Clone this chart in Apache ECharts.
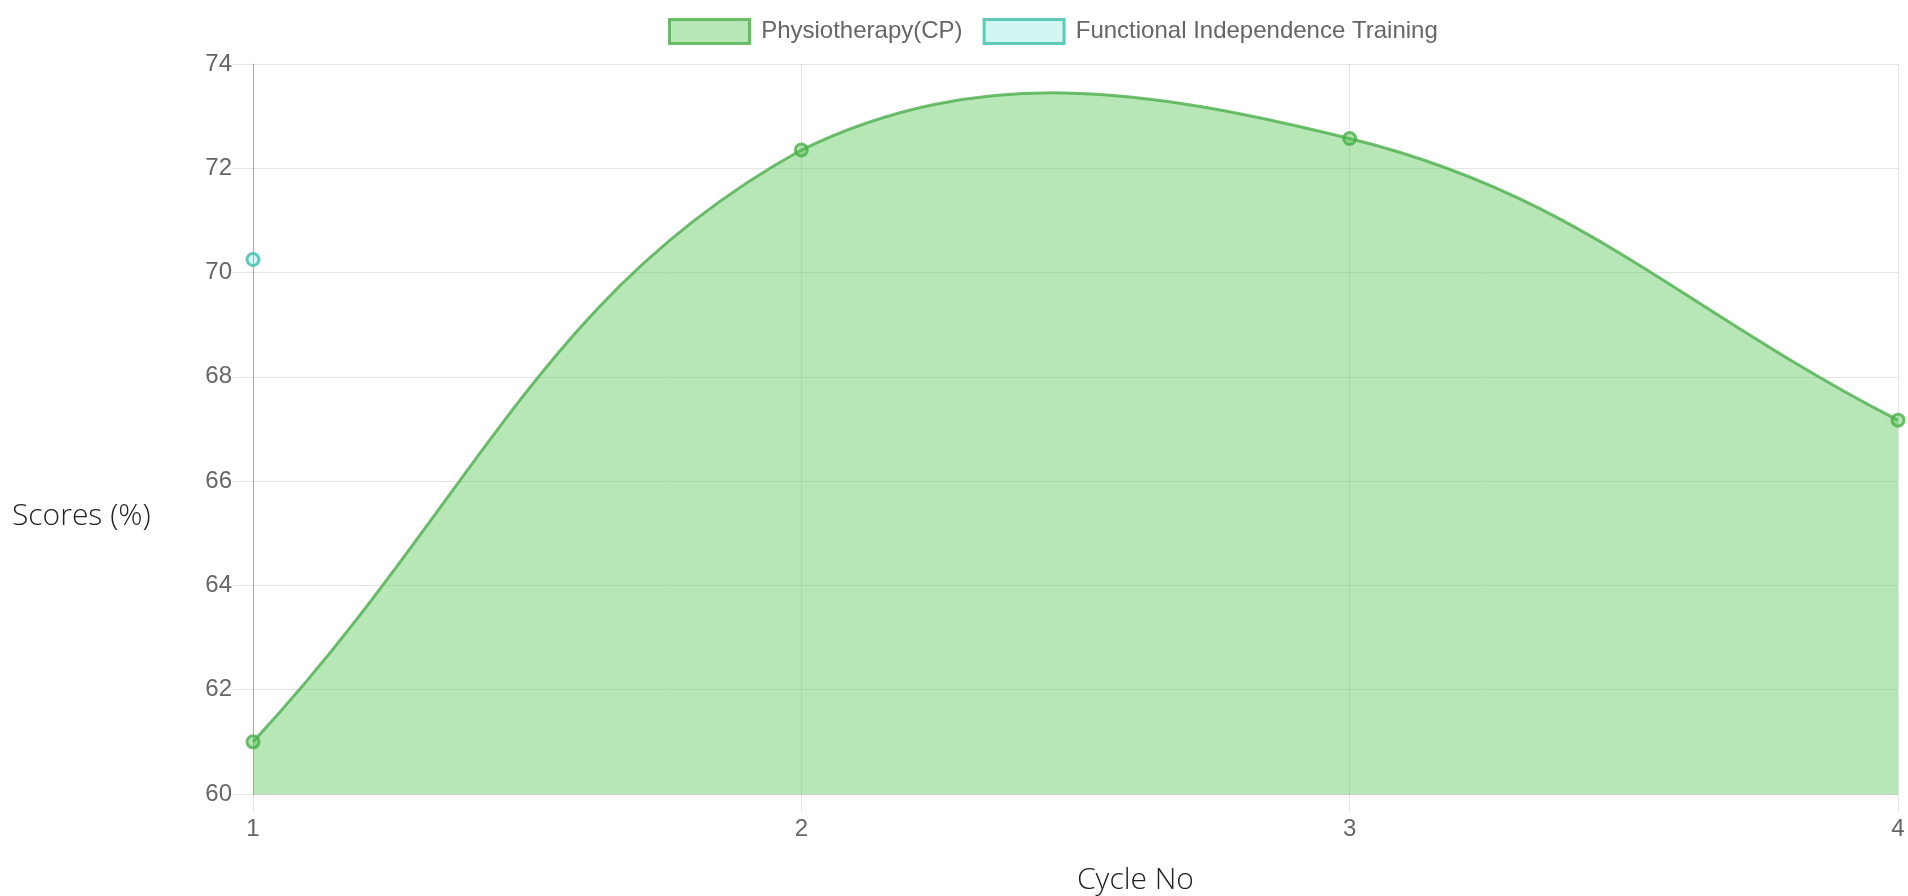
<!DOCTYPE html>
<html>
<head>
<meta charset="utf-8">
<script src="https://cdn.jsdelivr.net/npm/echarts@6/dist/echarts.min.js"></script>
<style>
html,body{margin:0;padding:0;background:#fff;}
#chart{width:1908px;height:896px;}
</style>
</head>
<body>
<div id="chart"></div>
<script>
const categories = ['1', '2', '3', '4'];
const physioValues = [61.0, 72.35, 72.57, 67.17];
const fitValues = [70.25, null, null, null];
const seriesNames = ['Physiotherapy(CP)', 'Functional Independence Training'];
const yMin = 60, yMax = 74, yStep = 2;
const xTitle = 'Cycle No';
const yTitle = 'Scores (%)';

const tension = 0.4;
const physioFill = 'rgba(75,192,75,0.4)';
const physioLine = 'rgba(75,175,75,0.8)';
const fitFill = 'rgba(75,220,200,0.25)';
const fitLine = 'rgba(60,190,170,0.8)';

const chart = echarts.init(document.getElementById('chart'));
const tickFont = 'Liberation Sans, Arial, Helvetica, sans-serif';
const titleFont = '"Open Sans", "Noto Sans", sans-serif';

// Chart.js-style cardinal spline (tension) drawn through the axes' own coordinate mapping
function renderSpline(params, api) {
  if (params.dataIndex !== 0) return null;
  const cs = params.coordSys;
  const pts = physioValues.map(function (v, i) { return api.coord([i, v]); });
  const n = pts.length;
  const clampX = function (x) { return Math.max(cs.x, Math.min(cs.x + cs.width, x)); };
  const clampY = function (y) { return Math.max(cs.y, Math.min(cs.y + cs.height, y)); };
  const cps = pts.map(function (cur, i) {
    const prev = i > 0 ? pts[i - 1] : cur;
    const next = i < n - 1 ? pts[i + 1] : cur;
    const d01 = Math.hypot(cur[0] - prev[0], cur[1] - prev[1]);
    const d12 = Math.hypot(next[0] - cur[0], next[1] - cur[1]);
    let s01 = d01 / (d01 + d12), s12 = d12 / (d01 + d12);
    if (isNaN(s01)) s01 = 0;
    if (isNaN(s12)) s12 = 0;
    const fa = tension * s01, fb = tension * s12;
    return {
      prev: [clampX(cur[0] - fa * (next[0] - prev[0])), clampY(cur[1] - fa * (next[1] - prev[1]))],
      next: [clampX(cur[0] + fb * (next[0] - prev[0])), clampY(cur[1] + fb * (next[1] - prev[1]))]
    };
  });
  let d = 'M' + pts[0][0] + ' ' + pts[0][1];
  for (let i = 1; i < n; i++) {
    const c1 = cps[i - 1].next, c2 = cps[i].prev;
    d += ' C' + c1[0] + ' ' + c1[1] + ' ' + c2[0] + ' ' + c2[1] + ' ' + pts[i][0] + ' ' + pts[i][1];
  }
  const baseY = api.coord([0, yMin])[1];
  const area = d + ' L' + pts[n - 1][0] + ' ' + baseY + ' L' + pts[0][0] + ' ' + baseY + ' Z';
  return {
    type: 'group',
    children: [
      { type: 'path', shape: { pathData: area }, style: { fill: physioFill, stroke: null } },
      { type: 'path', shape: { pathData: d }, style: { fill: null, stroke: physioLine, lineWidth: 3 } }
    ]
  };
}

chart.setOption({
  animation: false,
  grid: { left: 253, right: 10, top: 64, bottom: 102, containLabel: false },
  legend: {
    left: 668, top: 18, padding: 0,
    itemWidth: 80, itemHeight: 24, itemGap: 20,
    formatter: ' {name}',
    textStyle: { color: '#666', fontSize: 24, fontFamily: tickFont },
    data: [
      { name: seriesNames[0], icon: 'rect',
        itemStyle: { color: physioFill, borderColor: physioLine, borderWidth: 3 } },
      { name: seriesNames[1], icon: 'rect',
        itemStyle: { color: fitFill, borderColor: fitLine, borderWidth: 3 } }
    ]
  },
  xAxis: {
    type: 'category', data: categories, boundaryGap: false,
    axisLine: { show: true, lineStyle: { color: 'rgba(0,0,0,0.1)', width: 1 } },
    axisTick: { show: true, length: 18, lineStyle: { color: 'rgba(0,0,0,0.1)' } },
    axisLabel: { color: '#666', fontSize: 24, fontFamily: tickFont, margin: 23 },
    splitLine: { show: true, lineStyle: { color: 'rgba(0,0,0,0.1)' } }
  },
  yAxis: {
    type: 'value', min: yMin, max: yMax, interval: yStep,
    axisLine: { show: true, lineStyle: { color: 'rgba(0,0,0,0.25)', width: 1 } },
    axisTick: { show: true, length: 20, lineStyle: { color: 'rgba(0,0,0,0.1)' } },
    axisLabel: { color: '#666', fontSize: 24, fontFamily: tickFont, margin: 21 },
    splitLine: { show: true, lineStyle: { color: 'rgba(0,0,0,0.1)' } }
  },
  graphic: [
    { type: 'text', left: 12, top: 501,
      style: { text: yTitle, fill: '#222', font: '300 30px ' + titleFont } },
    { type: 'text', left: 1077, top: 865,
      style: { text: xTitle, fill: '#222', font: '300 30px ' + titleFont } }
  ],
  series: [
    {
      name: seriesNames[0], type: 'custom',
      data: physioValues.map(function (v, i) { return [i, v]; }),
      encode: { x: 0, y: 1 },
      renderItem: renderSpline,
      z: 2, silent: true
    },
    {
      name: seriesNames[0], type: 'line', data: physioValues,
      symbol: 'circle', symbolSize: 12, showSymbol: true,
      lineStyle: { opacity: 0, width: 0 },
      itemStyle: { color: physioFill, borderColor: physioLine, borderWidth: 3 },
      z: 3
    },
    {
      name: seriesNames[1], type: 'line', data: fitValues,
      symbol: 'circle', symbolSize: 12, showSymbol: true,
      lineStyle: { color: fitLine, width: 3 },
      itemStyle: { color: fitFill, borderColor: fitLine, borderWidth: 3 },
      z: 3
    }
  ]
});
</script>
</body>
</html>
